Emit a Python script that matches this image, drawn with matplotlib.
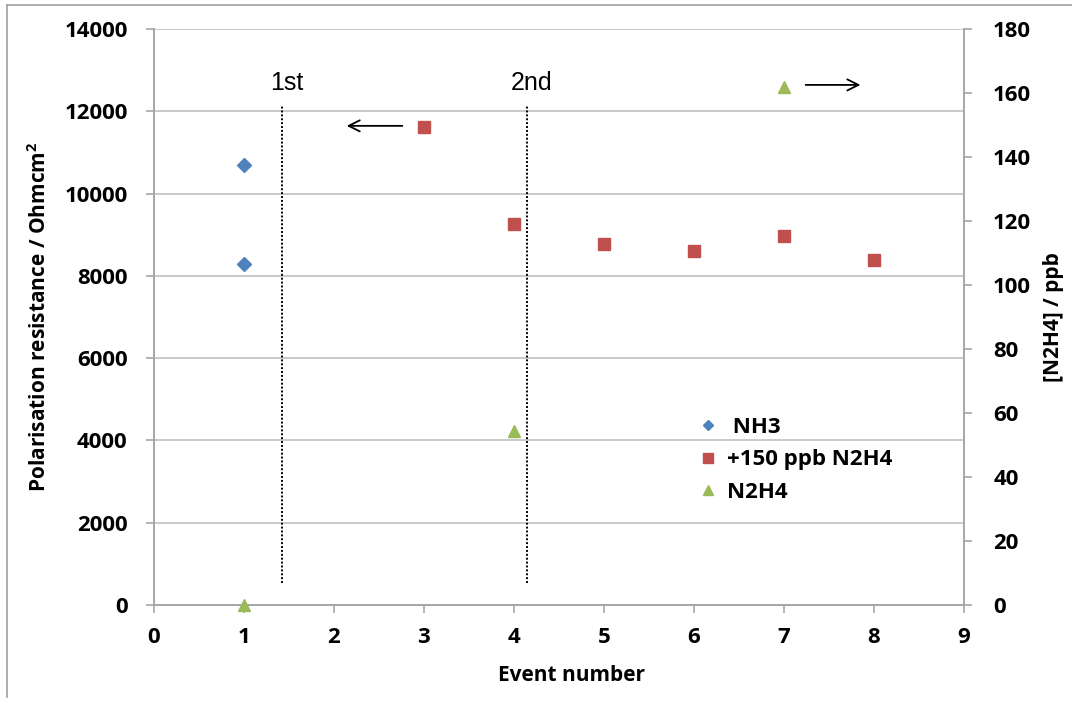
import matplotlib
matplotlib.use("Agg")
import matplotlib.pyplot as plt
from matplotlib.lines import Line2D

# ---- data ----
nh3_x = [1, 1]
nh3_y = [10700, 8300]
n2h4_add_x = [3, 4, 5, 6, 7, 8]
n2h4_add_y = [11630, 9270, 8770, 8610, 8970, 8380]
n2h4_x = [1, 4, 7]
n2h4_ppb = [0, 54.3, 161.8]

xticks = list(range(0, 10))
yticks_left = list(range(0, 14001, 2000))
yticks_right = list(range(0, 181, 20))

event_lines = [1.42, 4.14]
event_labels = ["1st", "2nd"]

BLUE = "#4F81BD"
RED = "#C0504D"
GREEN = "#9BBB59"
GRID = "#C0C0C0"
SPINE = "#A6A6A6"
FONT = "Open Sans"

W, H = 1072, 707
fig = plt.figure(figsize=(W / 100, H / 100), dpi=100)
ax = fig.add_axes([154 / W, 1 - 605 / H, 810 / W, 576 / H])
ax2 = ax.twinx()

tickfont = dict(family=FONT, weight="bold", size=16)

ax.set_xlim(0, 9)
ax.set_ylim(0, 14000)
ax2.set_ylim(0, 180)
ax.set_xticks(xticks)
ax.set_yticks(yticks_left)
ax2.set_yticks(yticks_right)
ax.set_xticklabels([str(v) for v in xticks], **tickfont)
ax.set_yticklabels([str(v) for v in yticks_left], **tickfont)
ax2.set_yticklabels([str(v) for v in yticks_right], **tickfont)

ax.yaxis.grid(True, color=GRID, lw=1.2)
ax.set_axisbelow(True)
for a in (ax, ax2):
    for s in a.spines.values():
        s.set_color(SPINE)
        s.set_linewidth(1.2)
    a.spines["top"].set_visible(False)
ax.tick_params(axis="both", direction="out", length=6, width=1.2, color=SPINE, pad=13)
ax.tick_params(axis="x", pad=10)
ax2.tick_params(axis="y", direction="out", length=6, width=1.2, color=SPINE, pad=15)

# event markers
for xv, lab in zip(event_lines, event_labels):
    ax.plot([xv, xv], [534, 12132], color="black", ls=(0, (1, 1)), lw=1.4, zorder=2)
    ax.text(xv + 0.06, 12690, lab, family="Liberation Sans", size=18,
            ha="center", va="center")

# arrows
ax.annotate("", xy=(2.11, 11646), xytext=(2.79, 11646),
            arrowprops=dict(arrowstyle="->,head_length=0.8,head_width=0.4", color="black", lw=1.3))
ax.annotate("", xy=(7.88, 12641), xytext=(7.21, 12641),
            arrowprops=dict(arrowstyle="->,head_length=0.8,head_width=0.4", color="black", lw=1.3))

# data
ax.plot(nh3_x, nh3_y, ls="none", marker="D", ms=6.8, color=BLUE, mec=BLUE, zorder=5, clip_on=False)
ax.plot(n2h4_add_x, n2h4_add_y, ls="none", marker="s", ms=8.4, color=RED, mec=RED, zorder=5, clip_on=False)
ax2.plot(n2h4_x, n2h4_ppb, ls="none", marker="^", ms=9, color=GREEN, mec=GREEN, zorder=5, clip_on=False)

labfont = dict(family=FONT, weight="bold", size=15)
ax.set_ylabel("Polarisation resistance / Ohmcm$^\\mathregular{2}$", **labfont)
ax.yaxis.set_label_coords(-0.127, 0.5)
ax2.set_ylabel("[N2H4] / ppb", **labfont)
ax2.yaxis.set_label_coords(1.097, 0.5)
ax.set_xlabel("Event number", **labfont)
ax.xaxis.set_label_coords(0.515, -0.105)

handles = [
    Line2D([], [], ls="none", marker="D", ms=5.5, color=BLUE),
    Line2D([], [], ls="none", marker="s", ms=7, color=RED),
    Line2D([], [], ls="none", marker="^", ms=7.5, color=GREEN),
]
labels = [" NH3", "+150 ppb N2H4", "N2H4"]
leg = ax2.legend(handles, labels, loc="upper left",
                 bbox_to_anchor=(690 / W, 1 - 408 / H), bbox_transform=fig.transFigure,
                 frameon=False, prop=dict(family=FONT, weight="bold", size=16),
                 handlelength=0.8, handletextpad=0.45, labelspacing=0.52, borderaxespad=0)

# figure border (left and top)
fig.add_artist(Line2D([7 / W, 7 / W], [1 - 5 / H, 1 - 697 / H], color="#A0A0A0", lw=1.2))
fig.add_artist(Line2D([7 / W, 1.0], [1 - 5 / H, 1 - 5 / H], color="#A0A0A0", lw=1.2))

fig.savefig("out.png", dpi=100)
